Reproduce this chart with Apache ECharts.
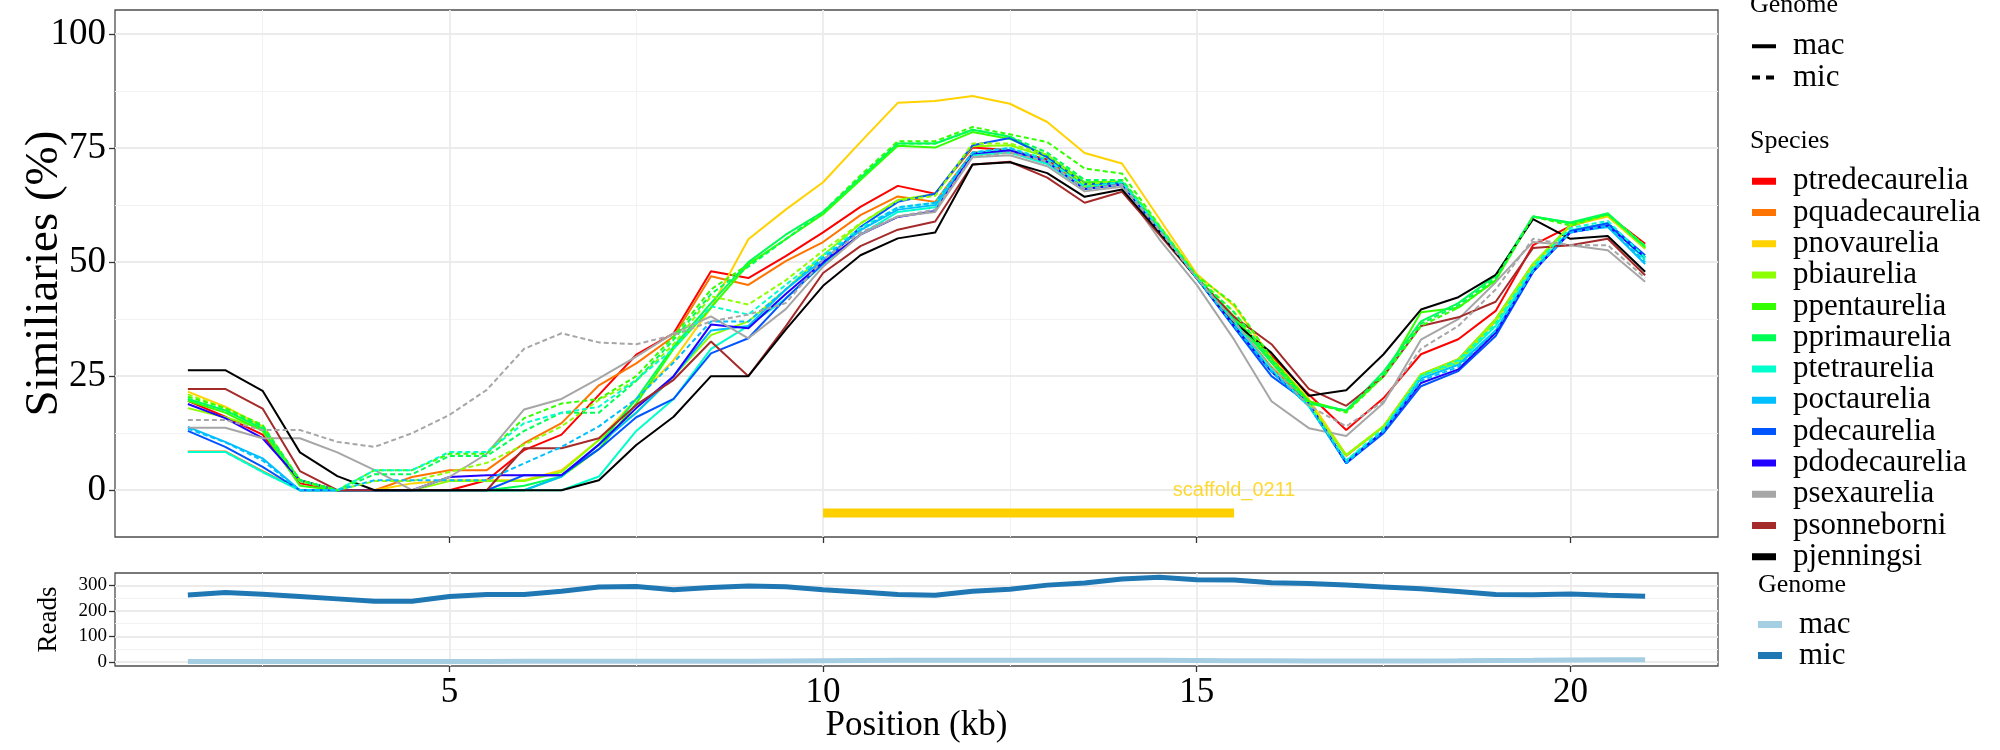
<!DOCTYPE html>
<html><head><meta charset="utf-8">
<script src="https://cdn.jsdelivr.net/npm/echarts@6/dist/echarts.min.js"></script>
<style>html,body{margin:0;padding:0;background:#fff}#c{width:2000px;height:750px}</style>
</head><body><div id="c"></div>
<script>
// ---------- data ----------
const positions = [1.5,2,2.5,3,3.5,4,4.5,5,5.5,6,6.5,7,7.5,8,8.5,9,9.5,10,10.5,11,11.5,12,12.5,13,13.5,14,14.5,15,15.5,16,16.5,17,17.5,18,18.5,19,19.5,20,20.5,21];

const species = ['ptredecaurelia','pquadecaurelia','pnovaurelia','pbiaurelia','ppentaurelia','pprimaurelia','ptetraurelia','poctaurelia','pdecaurelia','pdodecaurelia','psexaurelia','psonneborni','pjenningsi'];
const speciesColors = ['#FF0000','#FF7400','#FFD200','#8CFF00','#33FF00','#00FF55','#00FFCC','#00BFFF','#0055FF','#2200FF','#A6A6A6','#A52A2A','#000000'];

const ptredecaurelia_mac = [19.6,16.1,12.2,1.5,0,0,0,0,2.2,8.8,12.2,20.9,29.7,34.4,48,46.5,51.3,56.5,62.1,66.7,65,75.1,74.5,72.5,66.5,67,57,46.5,37.5,29.5,21,13.2,20.2,29.8,33.1,39.3,53.7,57.9,60.3,54];
const pquadecaurelia_mac = [8.5,8.5,4.2,0,0,0,2.9,4.4,4.4,10.3,14.7,23,27.8,33.7,46.9,45,50.2,54.4,60.3,64.4,63.2,74.1,74,72,66.5,67,57,46.5,37,27,19,7.5,14,25.4,28.7,37.5,49.6,58,60.3,53];
const pnovaurelia_mac = [21.6,18.3,14,2.2,0,0,1.5,2.2,2.2,2.2,4.4,11,20,28.5,40,55,61.5,67.5,76.3,84.9,85.3,86.4,84.7,80.7,73.9,71.6,59.5,47.4,40.4,29,20,7.7,14,25.4,28,37,49,58,60,53];
const pbiaurelia_mac = [18,16,13.5,2.2,0,0,0,2,2,2,4,11,17,25,34,37,44,51.5,58.4,63.6,64.9,75.4,75.6,73,66.5,67.5,57.5,46.7,38,28,19,7.7,14,25.4,28.7,37.5,49.6,58.1,60.3,53];
const ppentaurelia_mac = [19.6,17,13,1,0,0,0,0,0,0,3,9,19,31,40,49.5,55,60.5,68,75.5,75.1,78.5,77,73.4,67.5,67.6,57.7,46.7,38,28.7,19.5,17.3,25,39,40,46,60,58.5,60.5,53.5];
const pprimaurelia_mac = [20,17.5,13.5,2,0,0,0,0,0,1,3,10,20,31.5,41,50,56,61,68.5,76,76,79,77.5,73,67,67.5,57.5,46.7,37.5,28,19,17.5,26,37,41,47,60,58.7,60.7,53.3];
const ptetraurelia_mac = [8.4,8.4,4,0,0,0,0,0,0,0,0,3,13,20,31,36,42,49.5,56,61,62,73.4,74,71.5,66,67,57,46.5,36.5,26.5,18.4,6.5,13,25,28,36,48.5,57,58.5,50.5];
const poctaurelia_mac = [13.9,10.6,7,0,0,0,0,0,0,0,3,10,17,25,35,36,44,50.5,57,61.5,62.5,73.8,74.5,72,66,67,57,46.5,36,26,18.5,5.9,13,24.5,27.5,35,48,56.6,57.7,49.6];
const pdecaurelia_mac = [13,9.5,5.1,0,0,0,0,0,0,3.3,3.3,9,16,20,30,33.3,42,49.7,57.7,63.2,65,75.6,77.2,73,67.1,67.2,57,46.5,35.7,25,19.1,5.9,12.5,22.8,26.1,33.8,47.8,56.8,58.5,51.5];
const pdodecaurelia_mac = [18.9,15.8,11.4,2.2,0,0,0,2.9,3.3,3.3,3.3,10,18,25,36.3,35.5,43,50,56,59.9,61.2,73.8,74.5,72,66,67,57,46.5,36,26,19,6,13,23.5,26.5,34.5,48,56.5,58,51];
const psexaurelia_mac = [13.7,13.7,11.4,11.4,8.3,4.4,0,2.9,8,17.7,20,24.5,29.3,34.4,38.1,33.3,39.7,49,56,60,61,73,73.4,71,65.5,66.5,55,45,33,19.5,13.6,11.9,19.1,33,37.5,45.6,54.4,53.7,52.6,45.7];
const psonneborni_mac = [22.2,22.2,17.9,4.2,0,0,0,0,0,9.2,9.2,11.4,18.7,24.2,32.6,25,35.9,47.6,53.5,57.1,58.9,71.4,72,68.5,63,65.4,56,46.5,38,32,22.2,18.5,25,36,37.9,41.3,53.1,53.7,55.1,47.1];
const pjenningsi_mac = [26.3,26.3,21.8,8.3,3.1,0,0,0,0,0,0,2.2,9.9,16.1,25,25,35.2,44.8,51.5,55.2,56.5,71.4,71.9,69.5,64.3,65.9,56.5,46.5,36.8,30.1,20.7,21.9,29.8,39.6,42.3,47.2,59.4,55.1,55.7,47.9];

const psexaurelia_mic = [15.4,15.4,13.2,13.2,10.6,9.5,12.5,16.5,22,31,34.4,32.4,32,34,37,38.5,41,50.5,56.5,60,61.5,73,74,72,66,67,57,46.5,37,27,18.5,14,19.5,31,36,44,55.1,53.7,53.7,46.5];
const ppentaurelia_mic = [20.5,18,14.3,2.2,0,4.4,4.4,8,8,15.8,19,20,25,33.7,44,49.5,55,61,69,76.5,76.5,79.6,78,76.3,70.5,69.4,58,47,40.8,29,19.5,17,25,36,40,46,60,58,60.5,53.5];
const pprimaurelia_mic = [20,17.5,14,2.2,0,3.5,3.5,7.5,7.5,13,17,17,24,33,43,49,55,61,68.5,76,76,79,77.5,74,68,68,57.5,46.5,39,28.5,19,17.5,25.5,36.5,40.5,46.5,60,58.5,60.5,53.5];
const ptetraurelia_mic = [8.4,8.4,4,0,0,4.4,4.4,8.4,8.4,14.7,17,18.3,24.2,31,40.3,38.5,45,51.5,57.5,62,63,74,75,72.5,66.5,67.5,57.5,46.5,37,26.5,18.5,6.5,13.5,25,28.5,36.5,49,57.5,59,51];
const poctaurelia_mic = [13.5,10.5,6.5,0,0,2.2,2.2,2.2,2.2,5.9,9.5,14,20,28,37,37,44,51,57,62,63,74,75,72,66,67,57,46.5,36,26,18.5,6,13,24,27,35,48,56.5,58,50];
const pbiaurelia_mic = [21,18,14,2,0,2,2,4,6,10,14,19.8,24,32,42.5,40.7,46,52.5,58.5,63.5,64.5,76,76,73.5,67,68,58,47,39,28.5,19,7.7,14,25,28,37,49.5,58,60.5,53.5];

const reads_mac = [1,1,1,1,1,1,1,1,1.5,2,2,2,2,2,2,2,3,4,5,6,6,6,6,6,6,6,5.5,5,4.5,4,3.5,3,3,3.5,4,5,5.5,7,7.5,8];
const reads_mic = [262.6,271.7,265,256,247,238,238,256,264,264,277,294,296,283,292,298,295,283,274,264,261,277,285,301,309,325,332,322,321,310,307,301,294,287,276,264,263,266,261,257];

const scaffoldStart = [10];
const scaffoldEnd = [15.5];
const scaffoldName = ['scaffold_0211'];
const scaffoldY = [-5];
const scaffoldLabelY = [0];

const xTicks = [5,10,15,20];
const xMinor = [2.5,7.5,12.5,17.5];
const yTicksMain = [0,25,50,75,100];
const yMinorMain = [12.5,37.5,62.5,87.5];
const yTicksReads = [0,100,200,300];
const yMinorReads = [50,150,250];

// ---------- build ----------
const macData = {ptredecaurelia:ptredecaurelia_mac,pquadecaurelia:pquadecaurelia_mac,pnovaurelia:pnovaurelia_mac,pbiaurelia:pbiaurelia_mac,ppentaurelia:ppentaurelia_mac,pprimaurelia:pprimaurelia_mac,ptetraurelia:ptetraurelia_mac,poctaurelia:poctaurelia_mac,pdecaurelia:pdecaurelia_mac,pdodecaurelia:pdodecaurelia_mac,psexaurelia:psexaurelia_mac,psonneborni:psonneborni_mac,pjenningsi:pjenningsi_mac};
const micData = {psexaurelia:psexaurelia_mic,ppentaurelia:ppentaurelia_mic,pprimaurelia:pprimaurelia_mic,ptetraurelia:ptetraurelia_mic,poctaurelia:poctaurelia_mic,pbiaurelia:pbiaurelia_mic};

const F = 'Liberation Serif';
const pairs = v => positions.map((x,i)=>[x,v[i]]);
const series = [];

function gridSeries(xi, yi, xs, ys, width, color){
  return {type:'line', xAxisIndex:xi, yAxisIndex:yi, data:[], symbol:'none', silent:true, z:0,
    markLine:{silent:true, symbol:['none','none'], label:{show:false}, animation:false, z:0,
      lineStyle:{type:'solid', color:color, width:width},
      data: xs.map(v=>({xAxis:v})).concat(ys.map(v=>({yAxis:v})))}};
}
series.push(gridSeries(0,0,xMinor,yMinorMain,1,'#F2F2F2'));
series.push(gridSeries(0,0,xTicks,yTicksMain,1.8,'#EBEBEB'));
series.push(gridSeries(1,1,xMinor,yMinorReads,1,'#F2F2F2'));
series.push(gridSeries(1,1,xTicks,yTicksReads,1.8,'#EBEBEB'));

species.forEach((s,i)=>{
  series.push({name:s, type:'line', xAxisIndex:0, yAxisIndex:0, data:pairs(macData[s]), symbol:'none',
    color:speciesColors[i], lineStyle:{color:speciesColors[i], width:2}, z:3, silent:true});
});
species.forEach((s,i)=>{
  if(!micData[s]) return;
  series.push({name:s, type:'line', xAxisIndex:0, yAxisIndex:0, data:pairs(micData[s]), symbol:'none',
    color:speciesColors[i], lineStyle:{color:speciesColors[i], width:2, type:[5,3]}, z:4, silent:true});
});
series.push({name:'mac', type:'line', xAxisIndex:0, yAxisIndex:0, data:[], symbol:'none', color:'#000'});
series.push({name:'mic', type:'line', xAxisIndex:0, yAxisIndex:0, data:[], symbol:'none', color:'#000', lineStyle:{type:'dashed'}});

scaffoldStart.forEach((s,i)=>{
  series.push({type:'line', xAxisIndex:0, yAxisIndex:0, data:[[s,scaffoldY[i]],[scaffoldEnd[i],scaffoldY[i]]],
    symbol:'none', silent:true, z:5, lineStyle:{color:'#FFD000', width:9, cap:'butt'}});
  series.push({type:'scatter', xAxisIndex:0, yAxisIndex:0, data:[[scaffoldEnd[i],scaffoldLabelY[i]]], symbolSize:0, silent:true, z:6,
    label:{show:true, position:'inside', formatter:scaffoldName[i], color:'#FFD000', fontFamily:'Liberation Sans', fontSize:20}});
});

series.push({name:'mac_reads', type:'line', xAxisIndex:1, yAxisIndex:1, data:pairs(reads_mac), symbol:'none', color:'#A6CEE3', lineStyle:{color:'#A6CEE3', width:5}, z:3, silent:true});
series.push({name:'mic_reads', type:'line', xAxisIndex:1, yAxisIndex:1, data:pairs(reads_mic), symbol:'none', color:'#1F78B4', lineStyle:{color:'#1F78B4', width:5}, z:3, silent:true});

const tickStyle = {show:true, length:6, lineStyle:{color:'#333', width:1.3}};
const noLine = {show:false, onZero:false};
const iconKey = 'path://M0,0L24,0L24,7L0,7Z M36,0L36,7';
const iconSolid = 'path://M0,0L24,0L24,4L0,4Z M36,0L36,4';
const iconDash = 'path://M0,0L8,0L8,4L0,4Z M14,0L22,0L22,4L14,4Z M36,0L36,4';
const legText = {fontFamily:F, fontSize:31, lineHeight:30, color:'#000'};

const option = {
  animation:false,
  backgroundColor:'#fff',
  grid:[
    {left:115, top:10, width:1603, height:527, show:true, borderColor:'#4d4d4d', borderWidth:1.3, backgroundColor:'transparent', containLabel:false, outerBoundsMode:'none'},
    {left:115, top:573, width:1603, height:93, show:true, borderColor:'#4d4d4d', borderWidth:1.3, backgroundColor:'transparent', containLabel:false, outerBoundsMode:'none'}
  ],
  xAxis:[
    {type:'value', gridIndex:0, min:0.525, max:21.975, axisLine:noLine, splitLine:{show:false},
      axisTick:Object.assign({customValues:xTicks}, tickStyle), axisLabel:{show:false}},
    {type:'value', gridIndex:1, min:0.525, max:21.975, axisLine:noLine, splitLine:{show:false},
      axisTick:Object.assign({customValues:xTicks}, tickStyle),
      axisLabel:{customValues:xTicks, fontFamily:F, fontSize:35, color:'#000', margin:9},
      name:'Position (kb)', nameLocation:'middle', nameGap:42, nameMoveOverlap:false, nameTextStyle:{fontFamily:F, fontSize:35, color:'#000'}}
  ],
  yAxis:[
    {type:'value', gridIndex:0, min:-10.25, max:105.25, axisLine:noLine, splitLine:{show:false},
      axisTick:Object.assign({customValues:yTicksMain}, tickStyle),
      axisLabel:{customValues:yTicksMain, fontFamily:F, fontSize:37, color:'#000', margin:9},
      name:'Similiaries (%)', nameLocation:'middle', nameGap:47, nameMoveOverlap:false, nameTextStyle:{fontFamily:F, fontSize:47, color:'#000'}},
    {type:'value', gridIndex:1, min:-16.6, max:348.6, axisLine:noLine, splitLine:{show:false},
      axisTick:Object.assign({customValues:yTicksReads}, tickStyle),
      axisLabel:{customValues:yTicksReads, fontFamily:F, fontSize:19, color:'#000', margin:8},
      name:'Reads', nameLocation:'middle', nameGap:53, nameMoveOverlap:false, nameTextStyle:{fontFamily:F, fontSize:27, color:'#000'}}
  ],
  legend:[
    {orient:'vertical', left:1752, top:30.8, padding:0, itemGap:0.3, itemWidth:36, itemHeight:4, selectedMode:false,
      itemStyle:{borderWidth:0}, textStyle:legText,
      data:[{name:'mac', icon:iconSolid},{name:'mic', icon:iconDash}]},
    {orient:'vertical', left:1752, top:165.7, padding:0, itemGap:0.3, itemWidth:36, itemHeight:7, selectedMode:false,
      itemStyle:{borderWidth:0}, textStyle:legText,
      data:species.map(n=>({name:n, icon:iconKey}))},
    {orient:'vertical', left:1758, top:609, padding:0, itemGap:0, itemWidth:36, itemHeight:7, selectedMode:false,
      itemStyle:{borderWidth:0}, textStyle:legText, formatter:n=>n.replace('_reads',''),
      data:[{name:'mac_reads', icon:iconKey},{name:'mic_reads', icon:iconKey}]}
  ],
  graphic:[
    {type:'text', x:1750, y:5, style:{text:'Genome', fontFamily:F, fontSize:26, fill:'#000', verticalAlign:'middle', textVerticalAlign:'middle'}},
    {type:'text', x:1750, y:141.6, style:{text:'Species', fontFamily:F, fontSize:26, fill:'#000', verticalAlign:'middle', textVerticalAlign:'middle'}},
    {type:'text', x:1758, y:585, style:{text:'Genome', fontFamily:F, fontSize:26, fill:'#000', verticalAlign:'middle', textVerticalAlign:'middle'}}
  ],
  series:series
};
const chart = echarts.init(document.getElementById('c'), null, {renderer:'canvas'});
chart.setOption(option);
</script></body></html>
